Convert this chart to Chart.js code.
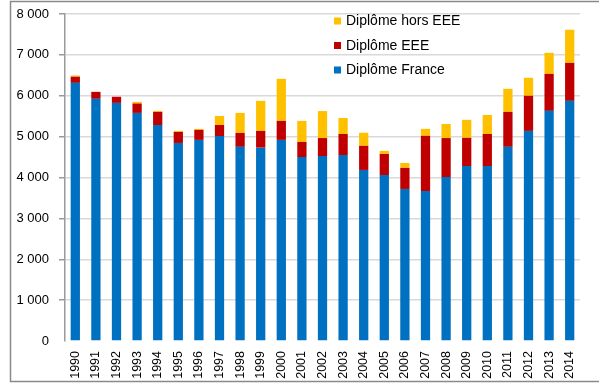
<!DOCTYPE html>
<html>
<head>
<meta charset="utf-8">
<script src="https://cdn.jsdelivr.net/npm/chart.js@4/dist/chart.umd.min.js"></script>
<style>
  html, body { margin: 0; padding: 0; background: #fff; }
  #wrap { width: 599px; height: 383px; position: relative; }
</style>
</head>
<body>
<div id="wrap"><canvas id="chart" width="599" height="383"></canvas></div>
<script>
const years = ["1990", "1991", "1992", "1993", "1994", "1995", "1996", "1997", "1998", "1999",
  "2000", "2001", "2002", "2003", "2004", "2005", "2006", "2007", "2008", "2009",
  "2010", "2011", "2012", "2013", "2014"];

const diplomeFrance = [6315, 5925, 5825, 5580, 5285, 4845, 4920, 5015, 4750, 4730,
  4920, 4500, 4525, 4550, 4185, 4060, 3720, 3670, 4010, 4280,
  4280, 4750, 5140, 5630, 5875];
const diplomeEEE = [150, 170, 150, 230, 320, 270, 245, 270, 340, 410,
  465, 370, 440, 515, 590, 515, 515, 1350, 955, 690,
  785, 855, 860, 905, 930];
const diplomeHorsEEE = [30, 0, 0, 40, 25, 25, 25, 220, 490, 735,
  1030, 515, 660, 390, 320, 75, 120, 170, 345, 440,
  465, 565, 440, 515, 810];

const yTicks = [0, 1000, 2000, 3000, 4000, 5000, 6000, 7000, 8000];

const FONT = "'Liberation Sans', Arial, sans-serif";

function fmtThousands(v) {
  return String(v).replace(/\B(?=(\d{3})+(?!\d))/g, " ");
}

// frame around the whole figure
const framePlugin = {
  id: "frame",
  afterDraw(chart) {
    const ctx = chart.ctx;
    ctx.save();
    ctx.strokeStyle = "#8a8a8a";
    ctx.lineWidth = 1.5;
    ctx.strokeRect(10.5, 1.5, 590, 380);
    ctx.restore();
  }
};

// legend inside the plot, top series first
const innerLegend = {
  id: "innerLegend",
  afterDraw(chart) {
    const ctx = chart.ctx;
    const sets = chart.data.datasets.slice().reverse();
    ctx.save();
    ctx.font = "14px " + FONT;
    ctx.textBaseline = "middle";
    sets.forEach((ds, i) => {
      const y = 21 + i * 24.5;
      ctx.fillStyle = ds.backgroundColor;
      ctx.fillRect(334, y - 3.5, 7, 7);
      ctx.fillStyle = "#000";
      ctx.fillText(ds.label, 346, y + 0.5);
    });
    ctx.restore();
  }
};

const ctx = document.getElementById("chart").getContext("2d");
new Chart(ctx, {
  type: "bar",
  data: {
    labels: years,
    datasets: [
      { label: "Diplôme France", data: diplomeFrance, backgroundColor: "#0070C0" },
      { label: "Diplôme EEE", data: diplomeEEE, backgroundColor: "#C00000" },
      { label: "Diplôme hors EEE", data: diplomeHorsEEE, backgroundColor: "#FFC000" }
    ]
  },
  options: {
    responsive: false,
    animation: false,
    layout: { padding: { top: 14, right: 19, left: 0, bottom: 0 } },
    datasets: {
      bar: { categoryPercentage: 1, barPercentage: 0.45, borderWidth: 0 }
    },
    plugins: {
      legend: { display: false },
      tooltip: { enabled: false }
    },
    scales: {
      x: {
        stacked: true,
        grid: { display: false, drawTicks: false },
        border: { display: false },
        ticks: {
          minRotation: 90,
          maxRotation: 90,
          autoSkip: false,
          padding: 10,
          color: "#000",
          font: { family: FONT, size: 12.5 }
        },
        afterFit(scale) { scale.height = 42; }
      },
      y: {
        stacked: true,
        min: 0,
        max: 8000,
        afterBuildTicks(scale) {
          scale.ticks = yTicks.map(v => ({ value: v }));
        },
        grid: {
          color: c => c.tick && c.tick.value === 0 ? "rgba(0,0,0,0)" : "#d9d9d9",
          tickColor: c => c.tick && c.tick.value === 0 ? "rgba(0,0,0,0)" : "#9a9a9a",
          lineWidth: 1.5,
          tickLength: 6
        },
        border: { display: true, color: "#9a9a9a", width: 1.5 },
        ticks: {
          padding: 10,
          color: "#000",
          font: { family: FONT, size: 13 },
          callback: v => fmtThousands(v)
        },
        afterFit(scale) {
          scale.width = 65;
          scale.paddingTop = 0;
          scale.paddingBottom = 0;
        }
      }
    }
  },
  plugins: [framePlugin, innerLegend]
});
</script>
</body>
</html>
